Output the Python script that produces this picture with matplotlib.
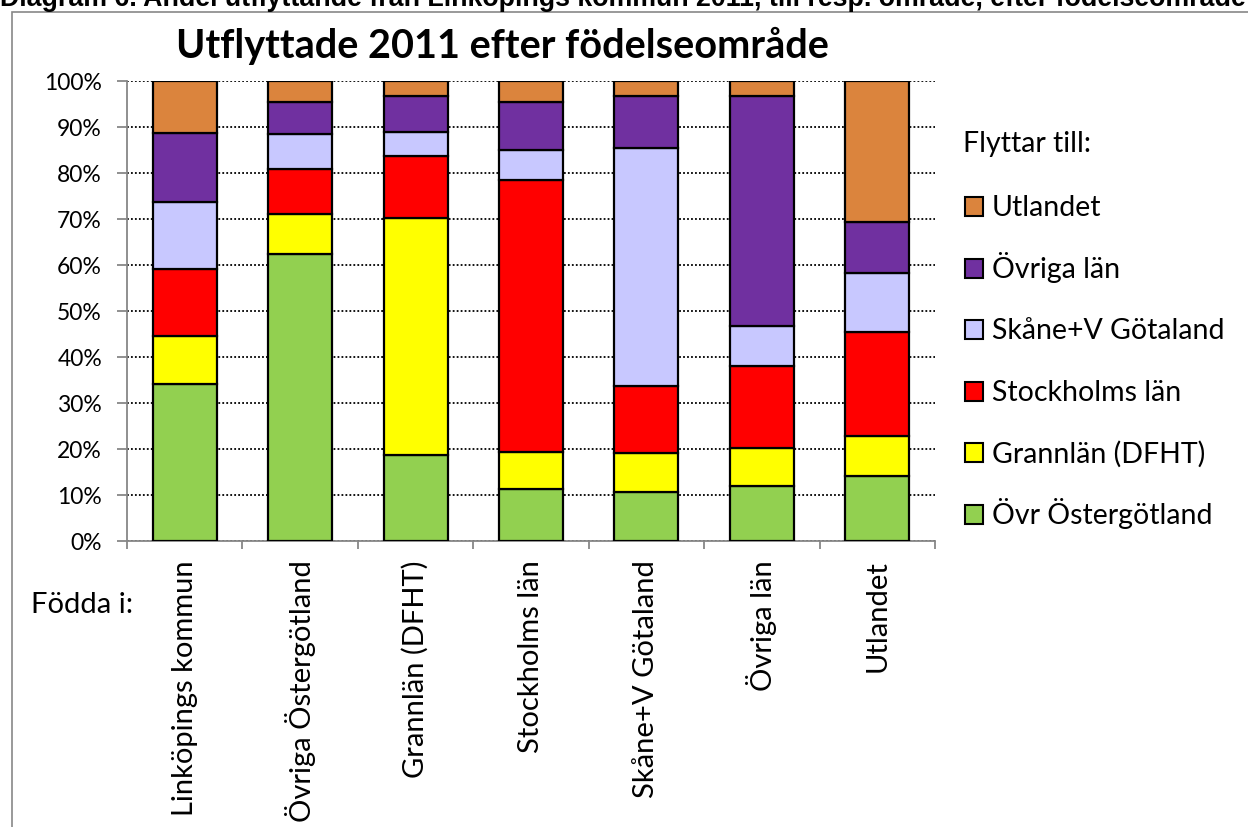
import matplotlib

matplotlib.use("Agg")
import matplotlib.pyplot as plt
import numpy as np
from matplotlib.patches import Rectangle

plt.rcParams["font.family"] = ["Lato", "DejaVu Sans"]

# Born in (x categories)
BORN_IN = ["Linköpings kommun", "Övriga Östergötland", "Grannlän (DFHT)",
           "Stockholms län", "Skåne+V Götaland", "Övriga län", "Utlandet"]

# Moves to (stack order, bottom -> top), share in %
DEST = ["Övr Östergötland", "Grannlän (DFHT)", "Stockholms län",
        "Skåne+V Götaland", "Övriga län", "Utlandet"]
ovr_ostergotland = [34.2, 62.5, 18.6, 11.2, 10.7, 12.0, 14.2]
grannlan = [10.4, 8.6, 51.7, 8.2, 8.4, 8.3, 8.6]
stockholm = [14.5, 9.7, 13.5, 59.1, 14.7, 17.8, 22.7]
skane_vg = [14.7, 7.7, 5.2, 6.5, 51.7, 8.7, 12.7]
ovriga_lan = [14.8, 7.0, 7.8, 10.4, 11.3, 50.0, 11.2]
utlandet = [11.4, 4.5, 3.2, 4.6, 3.2, 3.2, 30.6]
SERIES = [ovr_ostergotland, grannlan, stockholm, skane_vg, ovriga_lan, utlandet]
COLORS = ["#92D050", "#FFFF00", "#FF0000", "#C8C8FF", "#7030A0", "#DB843D"]

W, H = 1248, 827
GRAY = "#878787"


def fx(px):
    return px / W


def fy(py):
    return 1 - py / H


fig = plt.figure(figsize=(W / 100, H / 100), dpi=100)
ax = fig.add_axes([fx(127), fy(541), (935 - 127) / W, (541 - 81) / H])

x = np.arange(len(BORN_IN))
bottom = np.zeros(len(BORN_IN))
for vals, col, lab in zip(SERIES, COLORS, DEST):
    ax.bar(x, vals, 0.555, bottom=bottom, color=col, edgecolor="black",
           linewidth=1.6, label=lab, zorder=3)
    bottom += np.array(vals)

ax.set_xlim(-0.5, len(BORN_IN) - 0.5)
ax.set_ylim(0, 100)
ax.set_yticks(np.arange(0, 101, 10))
ax.set_yticklabels([f"{v}%" for v in range(0, 101, 10)], fontsize=16.5)
ax.yaxis.grid(True, color="black", linestyle=(0, (1, 1.2)), linewidth=1.3, zorder=0)
ax.set_xticks(x)
ax.set_xticklabels(BORN_IN, rotation=90, fontsize=21)
ax.set_xticks(np.arange(-0.5, len(BORN_IN), 1), minor=True)
ax.tick_params(axis="x", which="major", length=0, pad=14)
ax.tick_params(axis="x", which="minor", length=6, color=GRAY, width=1.3)
ax.tick_params(axis="y", length=7, color=GRAY, width=1.3, pad=11)
for s in ("top", "right"):
    ax.spines[s].set_visible(False)
for s in ("left", "bottom"):
    ax.spines[s].set_color(GRAY)
    ax.spines[s].set_linewidth(1.3)

fig.text(fx(502), fy(58), "Utflyttade 2011 efter födelseområde", fontsize=28.5,
         fontweight="bold", ha="center", va="baseline")

fig.text(fx(31), fy(605), "Födda i:", fontsize=21, va="center", ha="left")

# legend (top entry = top of stack)
fig.text(fx(963), fy(152), "Flyttar till:", fontsize=20.5, va="baseline", ha="left")
for i, (lab, col) in enumerate(zip(DEST[::-1], COLORS[::-1])):
    base = 216 + 61.6 * i
    fig.add_artist(Rectangle((fx(965), fy(base)), 18 / W, 19 / H, transform=fig.transFigure,
                             facecolor=col, edgecolor="black", linewidth=1.5))
    fig.text(fx(992), fy(base), lab, fontsize=20.5, va="baseline", ha="left")

# outer chart frame (clipped by the image edges)
fig.add_artist(Rectangle((fx(12), -0.2), 1.5, 1.2 - 12 / H, transform=fig.transFigure,
                         fill=False, edgecolor=GRAY, linewidth=1.2))

fig.text(0.0, fy(6),
         "Diagram 6. Andel utflyttande från Linköpings kommun 2011, till resp. område, efter födelseområde",
         fontsize=19.3, fontweight="bold", family="Liberation Sans", va="baseline", ha="left")

fig.savefig("out.png", dpi=100)
